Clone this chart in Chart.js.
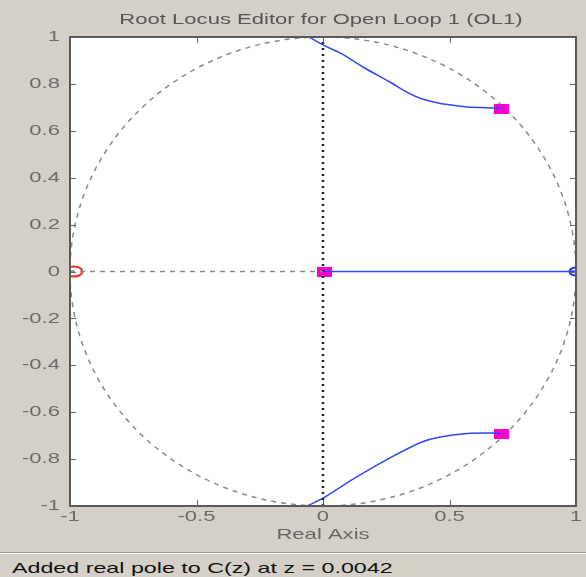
<!DOCTYPE html>
<html>
<head>
<meta charset="utf-8">
<script src="https://cdn.jsdelivr.net/npm/chart.js@4"></script>
<style>
  body { margin: 0; background: #d4d0c8; font-family: "Liberation Sans", Arial, sans-serif; }
  #wrap { width: 586px; height: 552px; position: relative; }
  #status {
    height: 23px; border-top: 1px solid #a09c94; box-shadow: inset 0 1px 0 #fff;
    font-size: 15px; color: #111; padding-left: 12px; line-height: 30px; overflow: hidden;
  }
  #status span { display: inline-block; transform: scaleX(1.55); transform-origin: left center; }
</style>
</head>
<body>
<div id="wrap"><canvas id="rlocus"></canvas></div>
<div id="status"><span>Added real pole to C(z) at z = 0.0042</span></div>
<script>
// root locus branches
const upperX = [-0.055, 0.004, 0.071, 0.161, 0.268, 0.335, 0.386, 0.45, 0.492, 0.56, 0.622, 0.67, 0.705];
const upperY = [1.0, 0.964, 0.93, 0.87, 0.806, 0.763, 0.738, 0.72, 0.712, 0.703, 0.699, 0.697, 0.695];
const lowerX = [-0.059, 0.004, 0.122, 0.268, 0.386, 0.453, 0.571, 0.673, 0.705];
const lowerY = [-0.998, -0.964, -0.883, -0.793, -0.729, -0.708, -0.691, -0.689, -0.692];
const realBranchX = [0, 1];
const realBranchY = [0, 0];

// open loop poles / zeros
const polesX = [0.705, 0.705, 0.0042];
const polesY = [0.695, -0.692, 0];
const zeroX = [-0.985];
const zeroY = [0];
const zeroBlueX = [1];
const zeroBlueY = [0];

// reference lines
const imagAxisX = [0, 0];
const imagAxisY = [-1, 1];
const negRealX = [-1, 0];
const negRealY = [0, 0];

const titleText = 'Root Locus Editor for Open Loop 1 (OL1)';
const xAxisTitle = 'Real Axis';
const xStep = 0.5;
const yStep = 0.2;

const FONT = '15px "Liberation Sans", Arial, sans-serif';
const STRETCH = 1.47; // the screenshot is stretched sideways

function pts(xs, ys) {
  return xs.map((x, i) => ({ x: x, y: ys[i] }));
}

function fmt(v) {
  return String(Number(v.toFixed(1)));
}

function wideText(ctx, text, x, y, align, color) {
  ctx.save();
  ctx.font = FONT;
  ctx.fillStyle = color;
  ctx.textAlign = align;
  ctx.textBaseline = 'middle';
  ctx.translate(x, y);
  ctx.scale(STRETCH, 1);
  ctx.fillText(text, 0, 0);
  ctx.restore();
}

function markRect(color) {
  const c = document.createElement('canvas');
  c.width = 15; c.height = 10;
  const g = c.getContext('2d');
  g.fillStyle = color;
  g.fillRect(0, 0, 15, 10);
  return c;
}

function markOval(color, fill, w, h) {
  const c = document.createElement('canvas');
  c.width = w + 3; c.height = h + 3;
  const g = c.getContext('2d');
  g.lineWidth = 2;
  g.strokeStyle = color;
  g.beginPath();
  g.ellipse(c.width / 2, c.height / 2, w / 2, h / 2, 0, 0, Math.PI * 2);
  g.stroke();
  if (fill) {
    g.fillStyle = fill;
    g.fillRect(3, c.height / 2 - 1, c.width / 2 - 3, 2);
  }
  return c;
}

// white plot area, unit circle, inner ticks, box and the wide MATLAB text
const decor = {
  id: 'decor',
  beforeDraw(chart) {
    const { ctx, chartArea: a } = chart;
    ctx.save();
    ctx.fillStyle = '#fff';
    ctx.fillRect(a.left, a.top, a.right - a.left, a.bottom - a.top);
    ctx.restore();
  },
  beforeDatasetsDraw(chart) {
    const { ctx, chartArea: a, scales } = chart;
    const cx = scales.x.getPixelForValue(0), cy = scales.y.getPixelForValue(0);
    const rx = scales.x.getPixelForValue(1) - cx;
    const ry = cy - scales.y.getPixelForValue(1);
    ctx.save();
    ctx.beginPath();
    ctx.rect(a.left, a.top, a.right - a.left, a.bottom - a.top);
    ctx.clip();
    ctx.strokeStyle = '#8a8a8a';
    ctx.lineWidth = 1.5;
    ctx.setLineDash([5, 5]);
    ctx.beginPath();
    ctx.ellipse(cx, cy, rx, ry, 0, 0, Math.PI * 2);
    ctx.stroke();
    ctx.restore();
  },
  afterDraw(chart) {
    const { ctx, chartArea: a, scales } = chart;
    ctx.save();
    ctx.strokeStyle = '#666';
    ctx.lineWidth = 1;
    ctx.beginPath();
    scales.x.ticks.forEach(t => {
      const px = Math.round(scales.x.getPixelForValue(t.value)) + 0.5;
      ctx.moveTo(px, a.bottom); ctx.lineTo(px, a.bottom - 6);
      ctx.moveTo(px, a.top); ctx.lineTo(px, a.top + 6);
    });
    scales.y.ticks.forEach(t => {
      const py = Math.round(scales.y.getPixelForValue(t.value)) + 0.5;
      ctx.moveTo(a.left, py); ctx.lineTo(a.left + 6, py);
      ctx.moveTo(a.right, py); ctx.lineTo(a.right - 6, py);
    });
    ctx.stroke();
    ctx.strokeStyle = '#5a5a5a';
    ctx.lineWidth = 2;
    ctx.strokeRect(a.left, a.top, a.right - a.left, a.bottom - a.top);
    ctx.restore();

    // tick labels
    scales.x.ticks.forEach(t => {
      wideText(ctx, fmt(t.value), scales.x.getPixelForValue(t.value), a.bottom + 11, 'center', '#6a6a6a');
    });
    scales.y.ticks.forEach(t => {
      wideText(ctx, fmt(t.value), a.left - 10, scales.y.getPixelForValue(t.value), 'right', '#6a6a6a');
    });
    // titles
    const mid = (a.left + a.right) / 2;
    wideText(ctx, xAxisTitle, mid, a.bottom + 29, 'center', '#666');
    wideText(ctx, titleText, mid - 2, 20, 'center', '#555');
  }
};

const line = (data, color, extra) => Object.assign({
  data: data, showLine: true, borderColor: color, borderWidth: 1.5,
  pointRadius: 0, fill: false, tension: 0.3
}, extra || {});

new Chart(document.getElementById('rlocus'), {
  type: 'scatter',
  data: {
    datasets: [
      line(pts(negRealX, negRealY), '#8a8a8a', { borderDash: [5, 5], tension: 0 }),
      line(pts(imagAxisX, imagAxisY), '#222', { borderDash: [2, 4], borderWidth: 2.5, tension: 0 }),
      line(pts(upperX, upperY), '#3344ff'),
      line(pts(lowerX, lowerY), '#3344ff'),
      line(pts(realBranchX, realBranchY), '#3344ff', { tension: 0 }),
      { data: pts(polesX, polesY), pointStyle: markRect('#ff00cc'), pointRadius: 7, showLine: false },
      { data: pts(zeroX, zeroY), pointStyle: markOval('#ee2222', '#3344ff', 17, 10), pointRadius: 8, showLine: false },
      { data: pts(zeroBlueX, zeroBlueY), pointStyle: markOval('#2233ee', '#2233ee', 13, 8), pointRadius: 7, showLine: false }
    ]
  },
  options: {
    responsive: true,
    maintainAspectRatio: false,
    animation: false,
    layout: { padding: { left: 12, right: 10, top: 37, bottom: 0 } },
    plugins: {
      legend: { display: false },
      tooltip: { enabled: false },
      title: { display: false }
    },
    scales: {
      x: {
        type: 'linear', min: -1, max: 1,
        grid: { display: false, drawTicks: false },
        border: { display: false },
        ticks: { stepSize: xStep, display: false },
        afterFit(s) { s.height = 46; }
      },
      y: {
        type: 'linear', min: -1, max: 1,
        grid: { display: false, drawTicks: false },
        border: { display: false },
        ticks: { stepSize: yStep, display: false },
        afterFit(s) { s.width = 58; }
      }
    }
  },
  plugins: [decor]
});
</script>
</body>
</html>
